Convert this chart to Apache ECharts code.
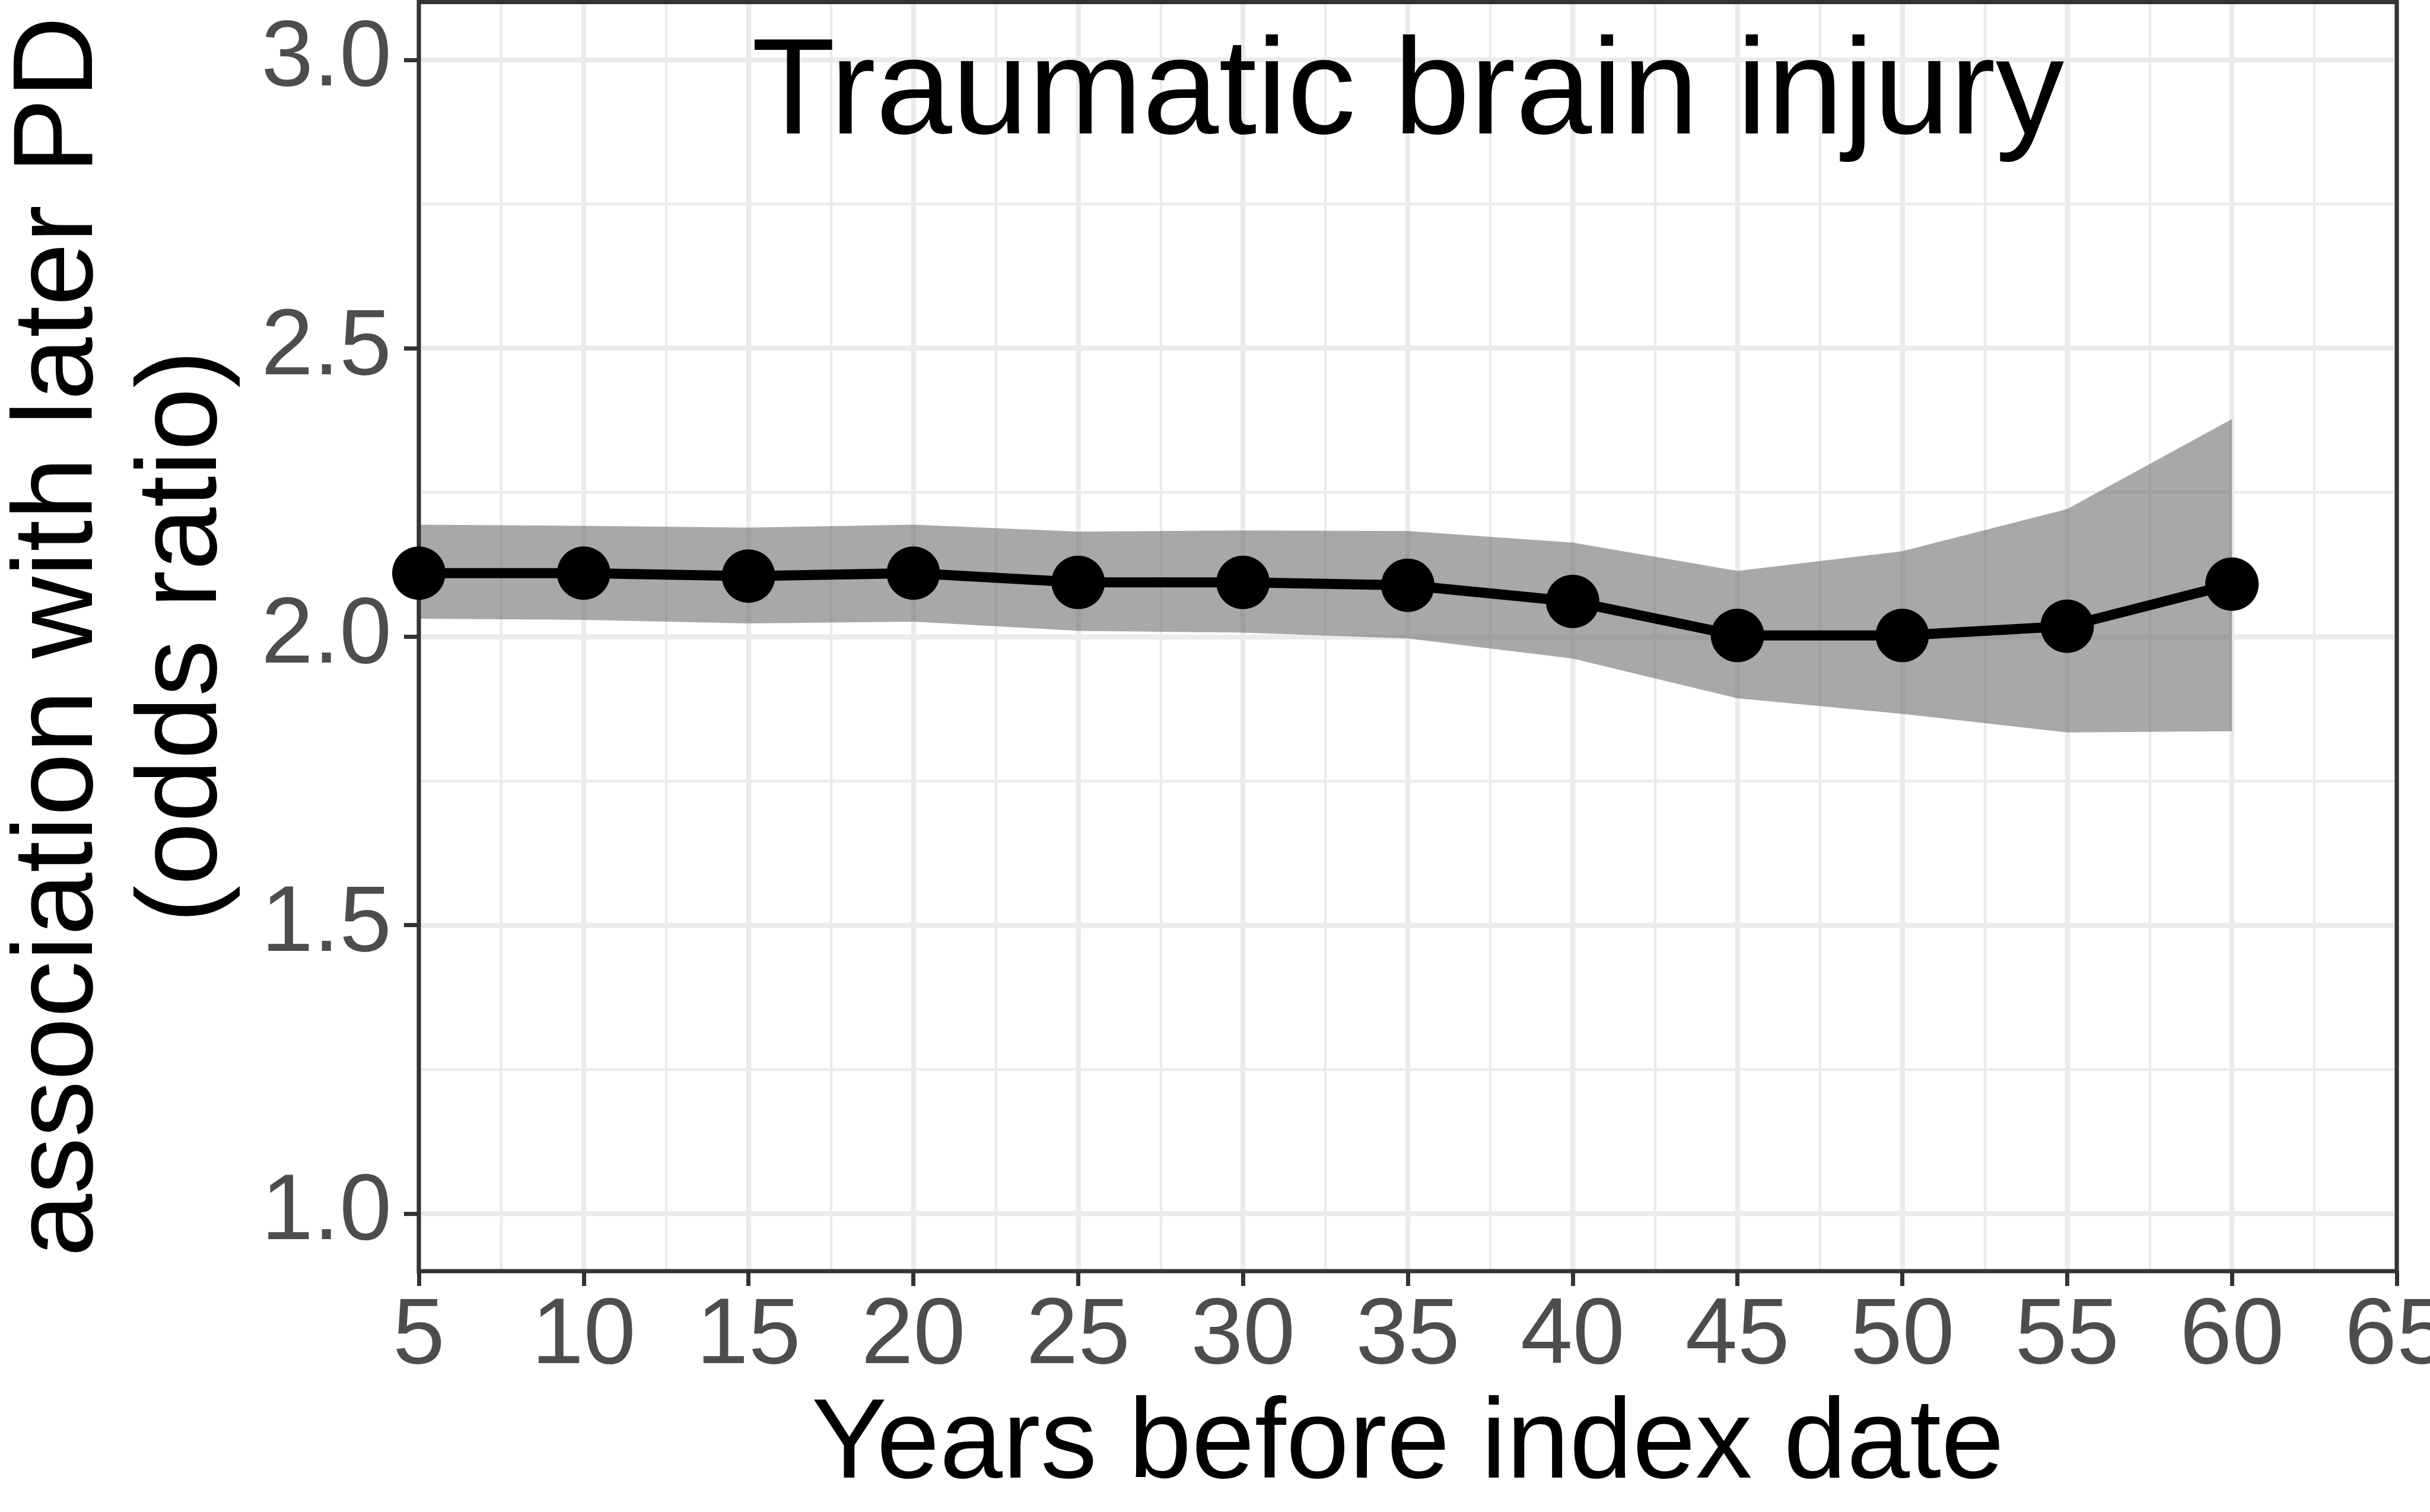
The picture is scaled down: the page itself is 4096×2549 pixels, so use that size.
<!DOCTYPE html>
<html>
<head>
<meta charset="utf-8">
<title>Traumatic brain injury</title>
<script src="https://cdn.jsdelivr.net/npm/echarts@6/dist/echarts.min.js"></script>
<style>
  html, body { margin: 0; padding: 0; background: #fff; }
  #chart { width: 4096px; height: 2549px; }
</style>
</head>
<body>
<div id="chart"></div>
<script>
// data
var years = [5, 10, 15, 20, 25, 30, 35, 40, 45, 50, 55, 60];
var oddsRatio = [2.11, 2.11, 2.105, 2.11, 2.094, 2.094, 2.089, 2.061, 2.002, 2.002, 2.018, 2.091];
var upperCI = [2.194, 2.192, 2.189, 2.194, 2.182, 2.184, 2.183, 2.163, 2.114, 2.148, 2.221, 2.377];
var lowerCI = [2.031, 2.029, 2.023, 2.026, 2.010, 2.007, 1.997, 1.962, 1.893, 1.866, 1.834, 1.836];
var yTicks = [1.0, 1.5, 2.0, 2.5, 3.0];

var FONT = '"Liberation Sans", Arial, sans-serif';

var myChart = echarts.init(document.getElementById('chart'));

// point pairs for the line
var linePoints = years.map(function (y, i) { return [y, oddsRatio[i]]; });

var option = {
    animation: false,
    backgroundColor: '#ffffff',
    title: {
        text: 'Traumatic brain injury',
        left: 2373,
        top: 46,
        padding: 0,
        textAlign: 'center',
        textStyle: {
            fontFamily: FONT,
            fontSize: 231,
            lineHeight: 231,
            fontWeight: 'normal',
            color: '#000000'
        }
    },
    // panel border sits above the grid lines and the band, below the line
    grid: {
        left: 706,
        right: 56,
        top: 3.5,
        bottom: 406,
        show: true,
        z: 2.5,
        borderColor: '#333333',
        borderWidth: 7,
        backgroundColor: 'transparent',
        containLabel: false,
        outerBoundsMode: 'none'
    },
    xAxis: {
        type: 'value',
        min: 5,
        max: 65,
        interval: 5,
        name: 'Years before index date',
        nameLocation: 'middle',
        nameGap: 200,
        nameTextStyle: {
            fontFamily: FONT,
            fontSize: 191,
            lineHeight: 191,
            color: '#000000'
        },
        axisLine: { show: false },
        axisTick: {
            show: true,
            length: 25,
            lineStyle: { color: '#333333', width: 7 }
        },
        axisLabel: {
            margin: 32,
            fontFamily: FONT,
            fontSize: 158,
            lineHeight: 158,
            color: '#4D4D4D',
            hideOverlap: false,
            showMinLabel: true,
            showMaxLabel: true
        },
        splitLine: {
            show: true,
            lineStyle: { color: '#EBEBEB', width: 8.3 }
        },
        minorTick: { show: false, splitNumber: 2 },
        minorSplitLine: {
            show: true,
            lineStyle: { color: '#EBEBEB', width: 4.3 }
        }
    },
    yAxis: {
        type: 'value',
        min: 0.9,
        max: 3.1,
        minInterval: 0.5,
        maxInterval: 0.5,
        name: 'association with later PD\n(odds ratio)',
        nameLocation: 'middle',
        nameRotate: 90,
        nameGap: 290,
        nameTextStyle: {
            fontFamily: FONT,
            fontSize: 191,
            lineHeight: 209,
            color: '#000000'
        },
        axisLine: { show: false },
        axisTick: {
            show: true,
            length: 25,
            customValues: yTicks,
            lineStyle: { color: '#333333', width: 7 }
        },
        axisLabel: {
            margin: 46,
            customValues: yTicks,
            fontFamily: FONT,
            fontSize: 158,
            color: '#4D4D4D',
            formatter: function (v) { return v.toFixed(1); }
        },
        splitLine: {
            show: true,
            lineStyle: { color: '#EBEBEB', width: 8.3 }
        },
        minorTick: { show: false, splitNumber: 2 },
        minorSplitLine: {
            show: true,
            lineStyle: { color: '#EBEBEB', width: 4.3 }
        }
    },
    series: [
        {
            // confidence band, one polygon: upper edge then lower edge back
            name: 'CI',
            type: 'custom',
            silent: true,
            z: 1,
            data: [[years[0], lowerCI[0]]],
            renderItem: function (params, api) {
                var pts = [];
                for (var i = 0; i < years.length; i++) {
                    pts.push(api.coord([years[i], upperCI[i]]));
                }
                for (var j = years.length - 1; j >= 0; j--) {
                    pts.push(api.coord([years[j], lowerCI[j]]));
                }
                return {
                    type: 'polygon',
                    shape: { points: pts },
                    style: { fill: 'rgba(96, 96, 96, 0.55)', stroke: null }
                };
            }
        },
        {
            name: 'OR',
            type: 'line',
            z: 3,
            clip: false,
            symbol: 'circle',
            symbolSize: 90,
            itemStyle: { color: '#000000' },
            lineStyle: { color: '#000000', width: 17 },
            data: linePoints
        }
    ]
};

myChart.setOption(option);
</script>
</body>
</html>
